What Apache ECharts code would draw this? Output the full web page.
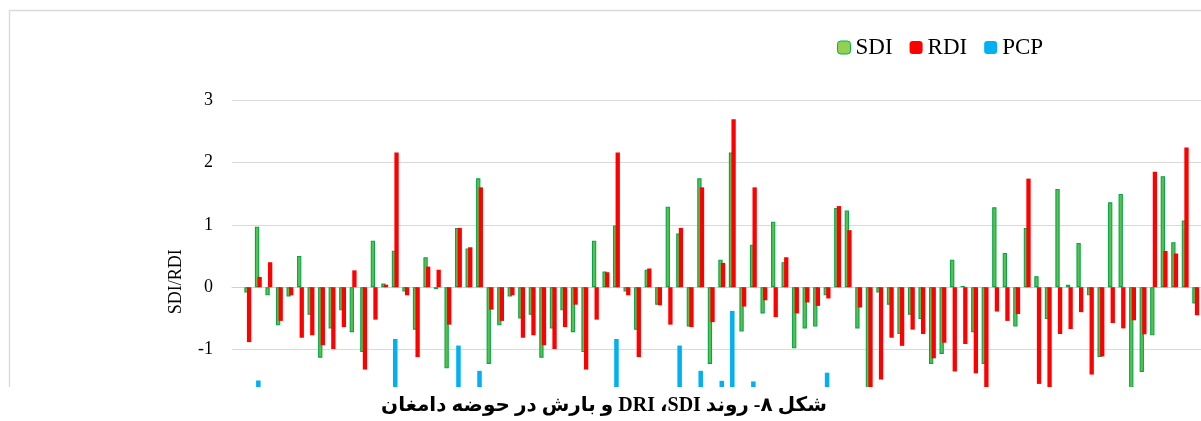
<!DOCTYPE html>
<html>
<head>
<meta charset="utf-8">
<script src="https://cdn.jsdelivr.net/npm/echarts@6/dist/echarts.min.js"></script>
<style>
html,body{margin:0;padding:0;background:#fff;}
#chart{width:1201px;height:421px;}
</style>
</head>
<body>
<div id="chart"></div>
<script>
const categories = ['0','1','2','3','4','5','6','7','8','9','10','11','12','13','14','15','16','17','18','19','20','21','22','23','24','25','26','27','28','29','30','31','32','33','34','35','36','37','38','39','40','41','42','43','44','45','46','47','48','49','50','51','52','53','54','55','56','57','58','59','60','61','62','63','64','65','66','67','68','69','70','71','72','73','74','75','76','77','78','79','80','81','82','83','84','85','86','87','88','89','90','91'];

const sdi = [null,
 -0.085, 0.97, -0.13, -0.61, -0.15, 0.50, -0.44, -1.13, -0.66, -0.37,
 -0.72, -1.04, 0.745, 0.06, 0.585, -0.07, -0.68, 0.48, -0.03, -1.30,
 0.95, 0.62, 1.745, -1.23, -0.61, -0.15, -0.50, -0.44, -1.13, -0.66,
 -0.37, -0.72, -1.04, 0.745, 0.25, 0.99, -0.07, -0.68, 0.28, -0.28,
 1.29, 0.86, -0.63, 1.745, -1.23, 0.44, 2.16, -0.71, 0.68, -0.42,
 1.05, 0.40, -0.98, -0.66, -0.63, -0.13, 1.27, 1.23, -0.66, -1.70,
 -0.085, -0.28, -0.75, -0.44, -0.51, -1.23, -1.07, 0.44, 0.02, -0.72,
 -1.23, 1.28, 0.55, -0.63, 0.95, 0.175, -0.51, 1.575, 0.04, 0.71,
 -0.13, -1.12, 1.36, 1.495, -1.65, -1.36, -0.77, 1.78, 0.72, 1.07,
 -0.26];

const rdi = [null,
 -0.88, 0.165, 0.40, -0.54, -0.13, -0.81, -0.77, -0.93, -0.99, -0.64,
 0.27, -1.32, -0.52, 0.04, 2.16, -0.13, -1.12, 0.33, 0.28, -0.60,
 0.95, 0.64, 1.60, -0.36, -0.54, -0.13, -0.81, -0.77, -0.93, -0.99,
 -0.64, -0.28, -1.32, -0.52, 0.24, 2.16, -0.13, -1.12, 0.30, -0.29,
 -0.60, 0.95, -0.64, 1.60, -0.56, 0.39, 2.69, -0.31, 1.60, -0.21,
 -0.48, 0.48, -0.42, -0.245, -0.30, -0.18, 1.30, 0.915, -0.325, -1.75,
 -1.48, -0.81, -0.94, -0.68, -0.75, -1.14, -0.89, -1.35, -0.91, -1.38,
 -1.70, -0.39, -0.54, -0.43, 1.74, -1.55, -1.65, -0.75, -0.67, -0.40,
 -1.40, -1.11, -0.575, -0.66, -0.53, -0.755, 1.85, 0.58, 0.54, 2.24,
 -0.45];

const pcp = [null,
 null, 10.1, null, null, null, null, null, null, null, null,
 null, null, null, null, 23.4, null, null, null, null, null,
 21.3, null, 13.2, null, null, null, null, null, null, null,
 null, null, null, null, null, 23.4, null, null, null, null,
 null, 21.3, null, 13.2, null, 10.0, 32.4, null, 9.8, null,
 null, null, null, null, null, 12.6, null, null, null, null,
 null, null, null, null, null, null, null, null, null, null,
 null, null, null, null, null, null, null, null, null, null,
 null, null, null, null, null, null, null, null, null, null,
 null];

const yTicks = [-2, -1, 0, 1, 2, 3];
const seriesNames = ['SDI', 'RDI', 'PCP'];
const yTitle = 'SDI/RDI';
const caption = 'شکل ۸- روند SDI،\u200F DRI و بارش در حوضه دامغان';

const chart = echarts.init(document.getElementById('chart'), null, {renderer: 'canvas'});
const serif = '"Liberation Serif", "Times New Roman", serif';

chart.setOption({
  animation: false,
  backgroundColor: '#fff',
  legend: {
    data: [
      {name: 'SDI', itemStyle: {color: '#92D050', borderColor: '#00B050', borderWidth: 1}},
      {name: 'RDI'},
      {name: 'PCP'}
    ],
    left: 832,
    top: 31,
    itemWidth: 13,
    itemHeight: 13,
    itemGap: 17,
    textStyle: {fontFamily: serif, fontSize: 23, color: '#000'}
  },
  grid: {left: 232, right: -8, top: 100, bottom: 7.5, containLabel: false},
  xAxis: [
    {type: 'category', data: categories, axisTick: {show: false}, axisLabel: {show: false},
     axisLine: {show: true, onZero: true, lineStyle: {color: '#d0d0d0', width: 1}}, splitLine: {show: false}},
    {type: 'category', data: categories, show: false}
  ],
  yAxis: [
    {type: 'value', min: yTicks[0], max: yTicks[yTicks.length - 1], interval: 1,
     axisLine: {show: false}, axisTick: {show: false},
     axisLabel: {fontFamily: serif, fontSize: 18, color: '#000', margin: 19},
     splitLine: {lineStyle: {color: '#d9d9d9', width: 1}}},
    {type: 'value', min: 0, max: 100, show: false, splitLine: {show: false}}
  ],
  series: [
    {name: 'SDI', type: 'bar', xAxisIndex: 0, yAxisIndex: 0, data: sdi,
     barWidth: 4.3, barGap: '-40%',
     itemStyle: {color: '#5fbf4a', borderColor: '#00A84A', borderWidth: 1.1}},
    {name: 'RDI', type: 'bar', xAxisIndex: 0, yAxisIndex: 0, data: rdi,
     barWidth: 4.3, barGap: '-40%',
     itemStyle: {color: '#FF0000'}},
    {name: 'PCP', type: 'bar', xAxisIndex: 1, yAxisIndex: 1, data: pcp,
     barWidth: 4.5,
     itemStyle: {color: '#00B0F0'}}
  ],
  graphic: [
    {type: 'rect', z: 0, silent: true,
     shape: {x: 9.5, y: 10.5, width: 1220, height: 420},
     style: {fill: 'none', stroke: '#d9d9d9', lineWidth: 1.3}},
    {type: 'rect', z: 100, silent: true,
     shape: {x: 0, y: 387, width: 1201, height: 34},
     style: {fill: '#fff'}},
    {type: 'text', z: 101, silent: true,
     x: 176.5, y: 281.7, rotation: Math.PI / 2,
     style: {text: yTitle, font: '18px ' + serif, fill: '#000', align: 'center', verticalAlign: 'middle'}},
    {type: 'text', z: 101, silent: true,
     x: 604, y: 406,
     style: {text: '\u202B' + caption + '\u202C', font: 'bold 20px "Liberation Serif", "DejaVu Sans", serif', fill: '#000', align: 'center', verticalAlign: 'middle'}}
  ]
});
</script>
</body>
</html>
